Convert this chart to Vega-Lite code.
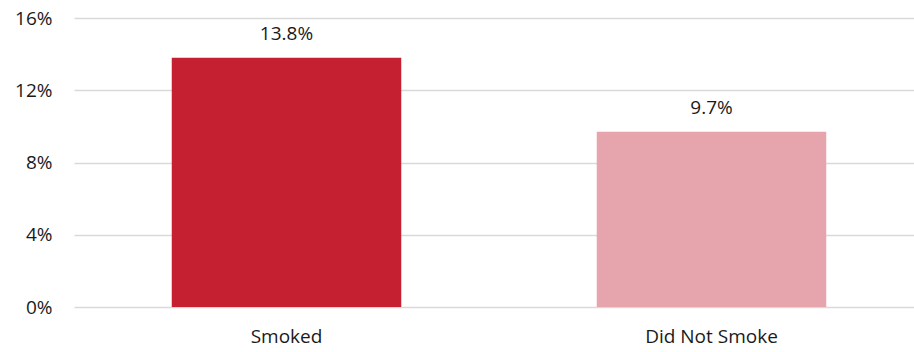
{
  "$schema": "https://vega.github.io/schema/vega-lite/v6.json",
  "autosize": {"type": "none"},
  "padding": {"left": 74, "top": 18, "right": 0, "bottom": 45},
  "width": 850,
  "height": 289,
  "background": "white",
  "data": {"values": [
    {"group": "Smoked", "value": 0.138, "label": "13.8%"},
    {"group": "Did Not Smoke", "value": 0.097, "label": "9.7%"}
  ]},
  "config": {"view": {"stroke": null}, "font": "Open Sans"},
  "encoding": {
    "x": {"field": "group", "type": "nominal", "sort": null,
      "scale": {"paddingInner": 0.46, "paddingOuter": 0.23},
      "axis": {"title": null, "labelAngle": 0, "ticks": false, "domain": false, "labelFontSize": 19, "labelColor": "#1a1a1a", "labelPadding": 20, "labelFont": "Open Sans"}},
    "y": {"field": "value", "type": "quantitative",
      "scale": {"domain": [0, 0.16]},
      "axis": {"title": null, "values": [0, 0.04, 0.08, 0.12, 0.16], "format": ".0%", "ticks": false, "domain": false, "gridColor": "#d9d9d9", "gridWidth": 1.5, "labelFontSize": 19, "labelColor": "#1a1a1a", "labelPadding": 22, "labelFont": "Open Sans"}}
  },
  "layer": [
    {"mark": {"type": "bar"},
     "encoding": {"color": {"field": "group", "type": "nominal", "legend": null,
       "scale": {"domain": ["Smoked", "Did Not Smoke"], "range": ["#C52032", "#E6A5AC"]}}}},
    {"mark": {"type": "text", "dy": -24, "fontSize": 19, "color": "#1a1a1a", "font": "Open Sans"},
     "encoding": {"text": {"field": "label"}}}
  ]
}
